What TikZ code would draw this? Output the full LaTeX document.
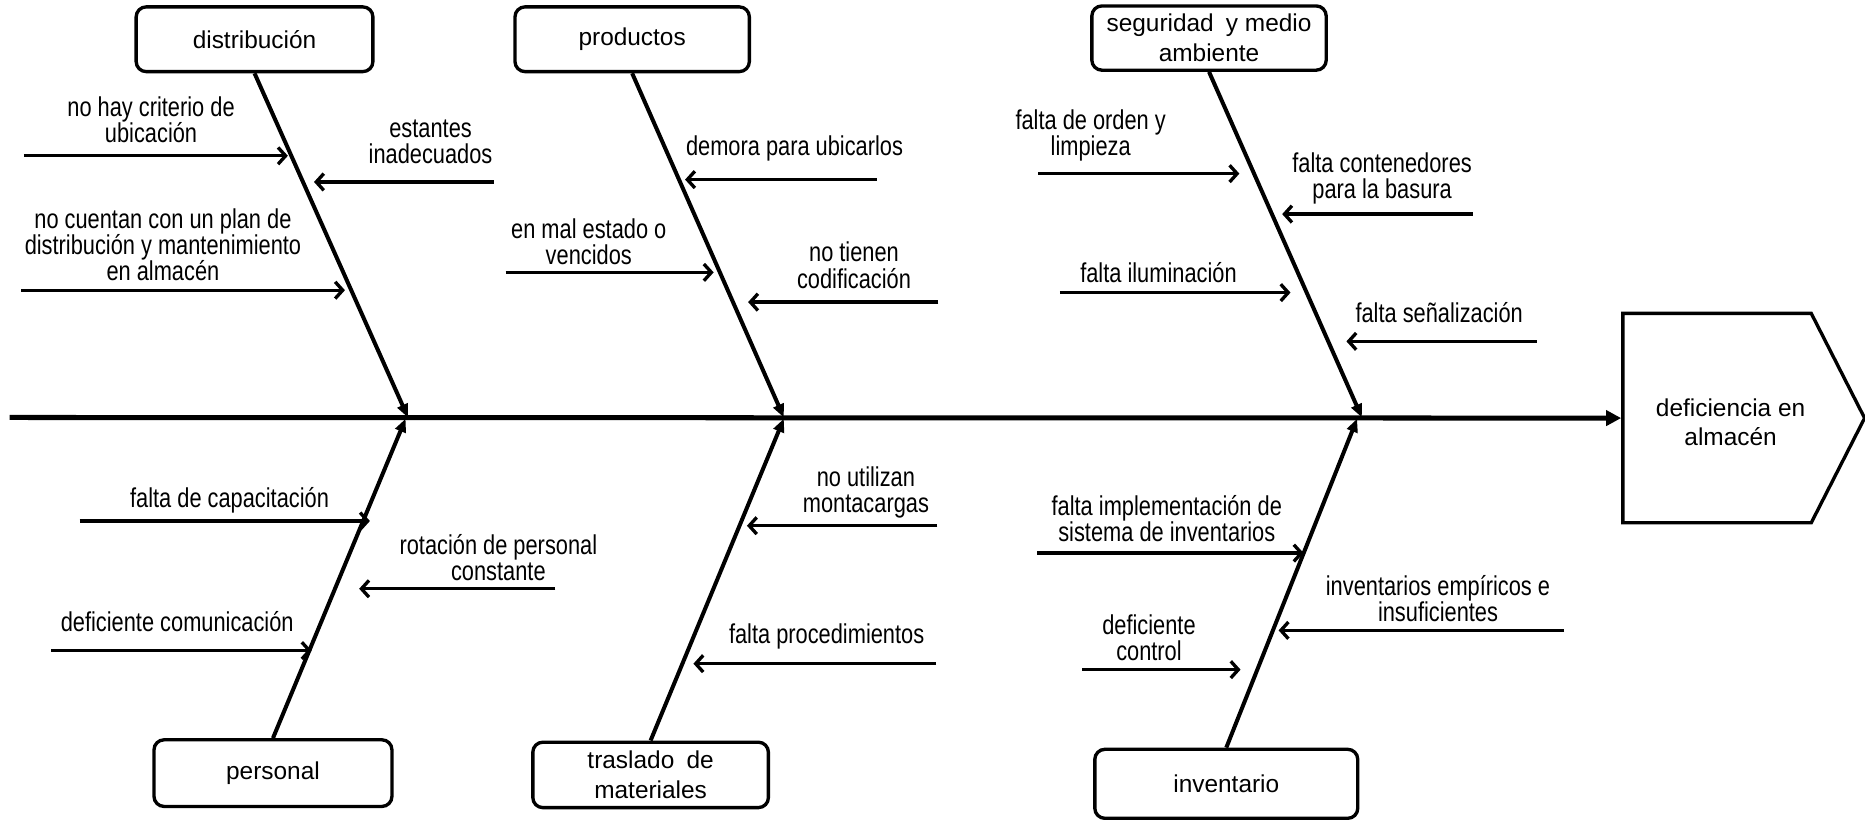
\documentclass[tikz,border=0pt]{standalone}
\usepackage{fontspec}
\setmainfont{Liberation Sans}[FakeStretch=0.8]
\newfontfamily\headfont{Liberation Sans}
\usetikzlibrary{arrows.meta,shapes.symbols}

% horizontal cause arrow: name, tail x, tip x, y
\newcommand\causearrow[4]{%
  \coordinate (#1a) at (#2,#4);
  \coordinate (#1b) at (#3,#4);
  \draw[subarrow] (#1a) -- (#1b);}

\begin{document}
\begin{tikzpicture}[x=0.025cm,y=-0.025cm,
  lbl/.style={font=\fontsize{16.3}{15.6}\selectfont, align=center, inner sep=0pt},
  headtxt/.style={font=\headfont\fontsize{14.6}{17.8}\selectfont, align=center, inner sep=0pt},
  causebox/.style={draw, line width=2pt, rounded corners=6pt, headtxt},
  bone/.style={line width=2.4pt, -{Triangle[length=8pt,width=6.5pt]}},
  spine/.style={line width=3pt, -{Triangle[length=9pt,width=9pt]}},
  subarrow/.style={line width=2pt, -{Straight Barb[length=4.5pt,width=10pt]}}]

\useasboundingbox (0,0) rectangle (1568,689);

% effect
\node[signal, draw, signal to=east, signal pointer angle=126, line width=2pt,
  minimum width=5.08cm, minimum height=4.4cm, anchor=west, inner sep=0pt]
  (efecto) at (1363,351.5) {};
\node[headtxt] (efectotxt) at (1455,355) {deficiencia en\\almacén};

% spine
\coordinate (sp0) at (8,351);
\draw[spine] (sp0) -- (efecto.west);

% category boxes
\node[causebox, minimum width=4.975cm, minimum height=1.36cm] (dist) at (214,33) {distribución};
\node[causebox, minimum width=4.925cm, minimum height=1.36cm] (prod) at (531.5,33) {productos};
\node[causebox, minimum width=4.925cm, minimum height=1.35cm] (segu) at (1016.5,32) {seguridad\hspace{0.5em}y medio\\ambiente};
\node[causebox, minimum width=5cm, minimum height=1.4cm] (pers) at (229.5,650) {personal};
\node[causebox, minimum width=4.95cm, minimum height=1.375cm] (tras) at (547,651.5) {traslado\hspace{0.5em}de\\materiales};
\node[causebox, minimum width=5.525cm, minimum height=1.45cm] (inve) at (1031,659) {inventario};

% bones
\coordinate (d1) at (343,351);
\coordinate (p1) at (659,351);
\coordinate (s1) at (1145,351);
\coordinate (e1) at (341,352);
\coordinate (t1) at (659,352);
\coordinate (i1) at (1141,352);
\draw[bone] (dist.south) -- (d1);
\draw[bone] (prod.south) -- (p1);
\draw[bone] (segu.south) -- (s1);
\draw[bone] (pers.north) -- (e1);
\draw[bone] (tras.north) -- (t1);
\draw[bone] (inve.north) -- (i1);

% distribucion
\node[lbl] (l1) at (127,101) {no hay criterio de\\ubicación};
\causearrow{c1}{20}{242}{131}
\node[lbl] (l2) at (362,119) {estantes\\inadecuados};
\causearrow{c2}{415}{264}{153}
\node[lbl] (l3) at (137,206) {no cuentan con un plan de\\distribución y mantenimiento\\en almacén};
\causearrow{c3}{18}{290}{244}

% productos
\node[lbl] (l4) at (668,125) {demora para ubicarlos};
\causearrow{c4}{737}{576}{151}
\node[lbl] (l5) at (495,203) {en mal estado o\\vencidos};
\causearrow{c5}{425}{600}{229}
\node[lbl] (l6) at (718,223) {no tienen\\codificación};
\causearrow{c6}{789}{629}{254}

% seguridad y medio ambiente
\node[lbl] (l7) at (917,114) {falta de orden y\\limpieza};
\causearrow{c7}{873}{1042}{146}
\node[lbl] (l8) at (1162,150) {falta contenedores\\para la basura};
\causearrow{c8}{1238}{1078}{180}
\node[lbl] (l9) at (974,229) {falta iluminación};
\causearrow{c9}{891}{1085}{246}
\node[lbl] (l10) at (1210,263) {falta señalización};
\causearrow{c10}{1292}{1132}{287}

% personal
\node[lbl] (l11) at (193,421) {falta de capacitación};
\causearrow{c11}{67}{311}{438}
\node[lbl] (l12) at (419,469) {rotación de personal\\constante};
\causearrow{c12}{467}{302}{495}
\node[lbl] (l13) at (149,523) {deficiente comunicación};
\causearrow{c13}{43}{262}{547}

% traslado de materiales
\node[lbl] (l14) at (728,414) {no utilizan\\montacargas};
\causearrow{c14}{788}{628}{442}
\node[lbl] (l15) at (695,535) {falta procedimientos};
\causearrow{c15}{787}{583}{558}

% inventario
\node[lbl] (l16) at (981,436) {falta implementación de\\sistema de inventarios};
\causearrow{c16}{872}{1096}{465}
\node[lbl] (l17) at (1209,503) {inventarios empíricos e\\insuficientes};
\causearrow{c17}{1315}{1075}{530}
\node[lbl] (l18) at (966,536) {deficiente\\control};
\causearrow{c18}{910}{1043}{563}
\end{tikzpicture}
\end{document}
